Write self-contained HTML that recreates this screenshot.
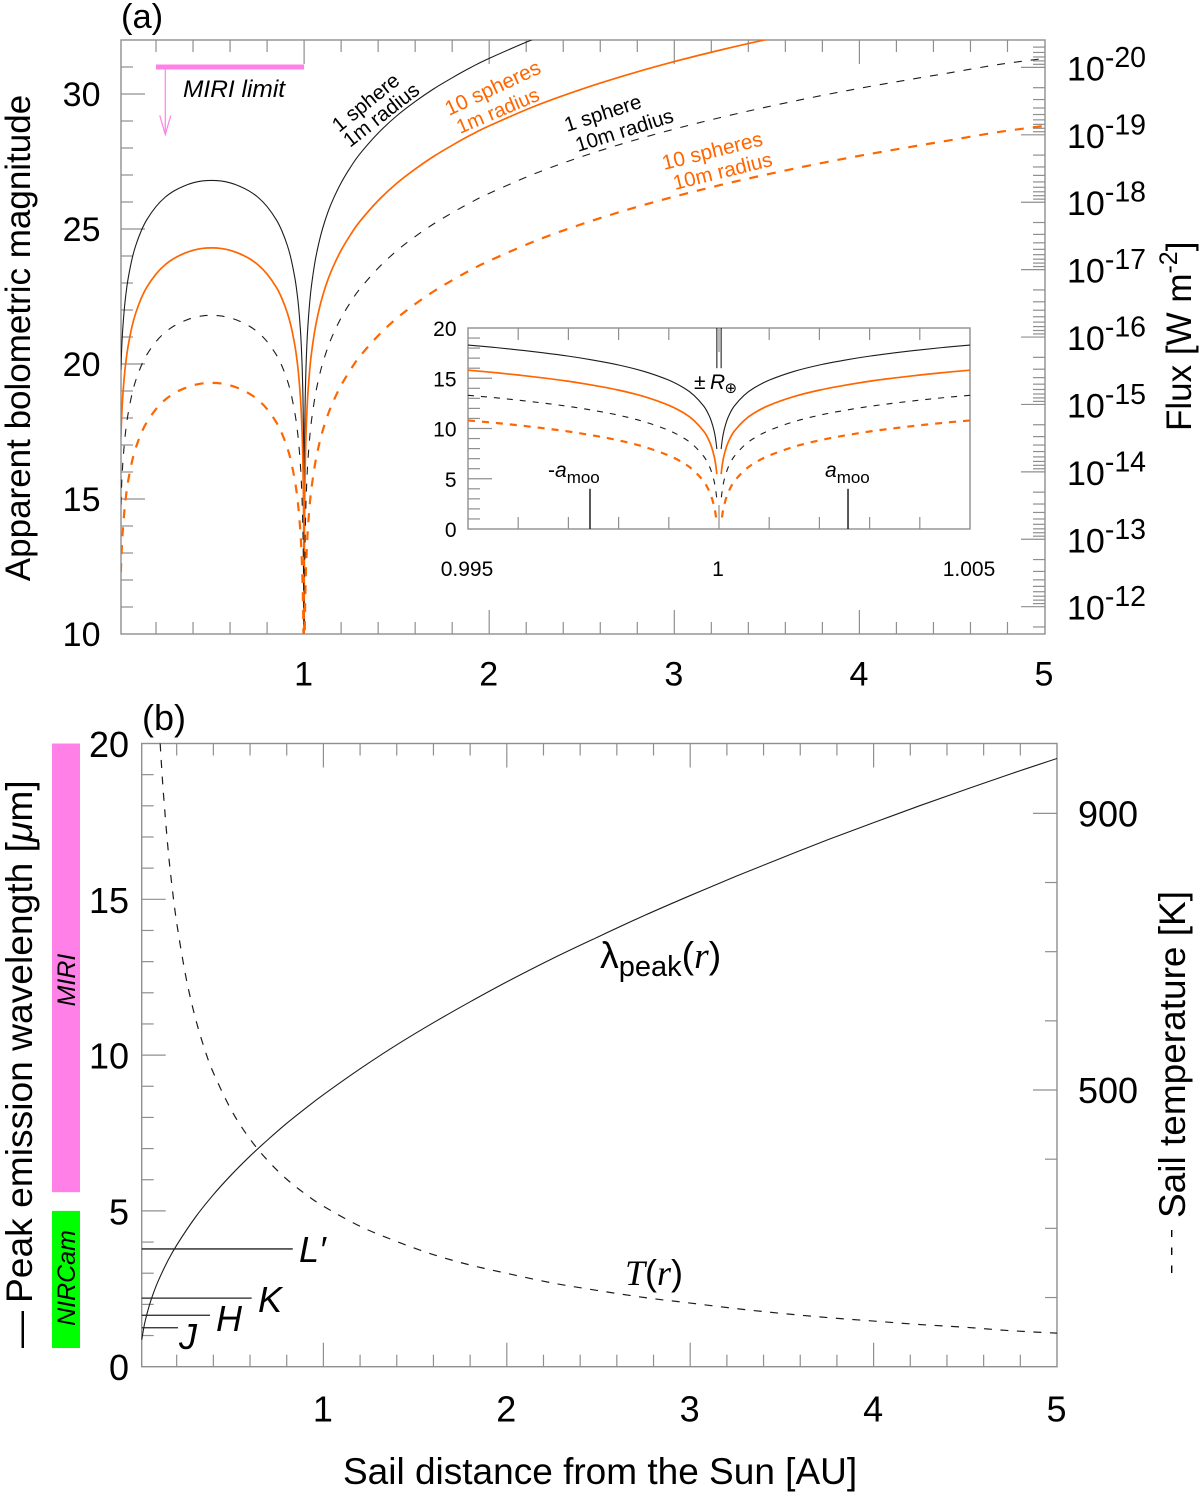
<!DOCTYPE html>
<html lang="en">
<head>
<meta charset="utf-8">
<title>Sail magnitude and peak emission versus solar distance</title>
<style>
html,body{margin:0;padding:0;background:#fff;}
svg{display:block;font-family:"Liberation Sans",sans-serif;fill:#000;}
.it{font-style:italic;}
.serif{font-family:"Liberation Serif",serif;font-style:italic;}
</style>
</head>
<body>
<svg id="fig" xmlns="http://www.w3.org/2000/svg" width="1200" height="1495" viewBox="0 0 1200 1495">
  <defs>
    <clipPath id="clipA"><rect x="121" y="40" width="924" height="594"/></clipPath>
    <clipPath id="clipB"><rect x="141" y="743.5" width="916" height="623.2"/></clipPath>
  </defs>
  <rect x="0" y="0" width="1200" height="1495" fill="#fff"/>

  <g id="panelA">
    <text x="121" y="28" font-size="34.5">(a)</text>
    <text transform="translate(30,338) rotate(-90)" text-anchor="middle" font-size="35">Apparent bolometric magnitude</text>
    <text transform="translate(1191,431) rotate(-90)" font-size="35">Flux [W m<tspan font-size="25" dy="-14">-2</tspan><tspan dy="14">]</tspan></text>

    <text x="183" y="97" font-size="24.5" class="it">MIRI limit</text>

    <g font-size="20.5">
      <text transform="translate(339,133) rotate(-39)">1 sphere</text>
      <text transform="translate(350,148) rotate(-38)">1m radius</text>
      <text transform="translate(449,116) rotate(-25)" font-size="20.8" fill="#ff6600">10 spheres</text>
      <text transform="translate(460,134) rotate(-23)" font-size="20" fill="#ff6600">1m radius</text>
      <text transform="translate(567,132) rotate(-18)">1 sphere</text>
      <text transform="translate(578,152) rotate(-17.5)">10m radius</text>
      <text transform="translate(664,170) rotate(-14)" font-size="20.8" fill="#ff6600">10 spheres</text>
      <text transform="translate(675,190) rotate(-14)" fill="#ff6600">10m radius</text>
    </g>

    <g id="inset">
      <rect x="468" y="328" width="502" height="201" fill="#fff" stroke="none"/>
      <text x="694" y="389" font-size="21" style="font-family:'Liberation Sans','DejaVu Sans',sans-serif">±<tspan class="it" x="710">R</tspan><tspan font-size="15" x="724.5" dy="4">⊕</tspan></text>
      <text x="548" y="477" font-size="21">-<tspan class="it">a</tspan><tspan font-size="17" dy="6">moo</tspan></text>
      <text x="825" y="477" font-size="21"><tspan class="it">a</tspan><tspan font-size="17" dy="6">moo</tspan></text>
    </g>
  </g>

  <g id="panelB">
    <text x="142" y="730" font-size="36">(b)</text>
    <text transform="translate(32,1348) rotate(-90)" font-size="37">—</text>
    <text transform="translate(32,1303) rotate(-90)" font-size="37.2">Peak emission wavelength [<tspan class="it">μ</tspan>m]</text>
    <text transform="translate(1185,1218) rotate(-90)" font-size="37">Sail temperature [K]</text>
    <line x1="1171.7" y1="1273" x2="1171.7" y2="1230" stroke="#000" stroke-width="1.4" stroke-dasharray="7.5 10.5"/>
    <text x="343" y="1484" font-size="37">Sail distance from the Sun [AU]</text>

    <text x="600" y="968" font-size="37.5">λ<tspan font-size="29" dy="8">peak</tspan><tspan dy="-8">(</tspan><tspan class="serif">r</tspan>)</text>
    <text x="625" y="1285" font-size="36"><tspan class="serif">T</tspan>(<tspan class="serif">r</tspan>)</text>

    <text x="299" y="1262" font-size="36" class="it">L′</text>
    <text x="258" y="1312" font-size="36" class="it">K</text>
    <text x="216" y="1331" font-size="36" class="it">H</text>
    <text x="179" y="1349" font-size="36" class="it">J</text>
  </g>
</svg>

<script>
/* ---------- Panel (a): apparent magnitude vs distance ---------- */
const radiusAU = [0.01,0.015,0.02,0.03,0.04,0.05,0.07,0.09,0.12,0.15,0.2,0.25,0.3,0.35,0.4,0.45,0.5,0.55,0.6,0.65,0.7,0.75,0.8,0.85,0.88,0.91,0.93,0.95,0.96,0.97,0.98,0.985,0.99,0.993,0.995,0.997,0.998,0.999,0.9995,0.9998,0.9999,0.99995,
1.00005,1.0001,1.0002,1.0005,1.001,1.002,1.003,1.005,1.007,1.01,1.015,1.02,1.03,1.04,1.06,1.08,1.1,1.13,1.16,1.2,1.25,1.3,1.4,1.5,1.6,1.7,1.8,1.9,2,2.25,2.5,2.75,3,3.25,3.5,3.75,4,4.25,4.5,4.75,5];
const magOneSphere1m = [19.79,20.66,21.27,22.13,22.73,23.19,23.88,24.38,24.93,25.34,25.83,26.18,26.42,26.59,26.71,26.78,26.80,26.78,26.71,26.59,26.42,26.18,25.83,25.34,24.93,24.38,23.88,23.19,22.73,22.13,21.27,20.66,19.79,19.02,18.29,17.19,16.31,14.81,13.30,11.32,9.81,8.31,
8.31,9.81,11.32,13.31,14.81,16.32,17.20,18.32,19.05,19.83,20.72,21.36,22.26,22.91,23.83,24.49,25.02,25.65,26.15,26.71,27.28,27.77,28.55,29.19,29.72,30.19,30.60,30.98,31.32,32.06,32.68,33.22,33.70,34.13,34.52,34.88,35.21,35.51,35.80,36.09,36.32];
const magTenSpheres1m = [17.29,18.16,18.77,19.63,20.23,20.69,21.38,21.88,22.43,22.84,23.33,23.68,23.92,24.09,24.21,24.28,24.30,24.28,24.21,24.09,23.92,23.68,23.33,22.84,22.43,21.88,21.38,20.69,20.23,19.63,18.77,18.16,17.29,16.52,15.79,14.69,13.81,12.31,10.80,8.82,7.31,5.81,
5.81,7.31,8.82,10.81,12.31,13.82,14.70,15.82,16.55,17.33,18.22,18.86,19.76,20.41,21.33,21.99,22.52,23.15,23.65,24.21,24.78,25.27,26.05,26.69,27.22,27.69,28.10,28.48,28.82,29.56,30.18,30.72,31.20,31.63,32.02,32.38,32.71,33.01,33.30,33.59,33.82];
const magOneSphere10m = [14.79,15.66,16.27,17.13,17.73,18.19,18.88,19.38,19.93,20.34,20.83,21.18,21.42,21.59,21.71,21.78,21.80,21.78,21.71,21.59,21.42,21.18,20.83,20.34,19.93,19.38,18.88,18.19,17.73,17.13,16.27,15.66,14.79,14.02,13.29,12.19,11.31,9.81,8.30,6.32,4.81,3.31,
3.31,4.81,6.32,8.31,9.81,11.32,12.20,13.32,14.05,14.83,15.72,16.36,17.26,17.91,18.83,19.49,20.02,20.65,21.15,21.71,22.28,22.77,23.55,24.19,24.72,25.19,25.60,25.98,26.32,27.06,27.68,28.22,28.70,29.13,29.52,29.88,30.21,30.51,30.80,31.09,31.32];
const magTenSpheres10m = [12.29,13.16,13.77,14.63,15.23,15.69,16.38,16.88,17.43,17.84,18.33,18.68,18.92,19.09,19.21,19.28,19.30,19.28,19.21,19.09,18.92,18.68,18.33,17.84,17.43,16.88,16.38,15.69,15.23,14.63,13.77,13.16,12.29,11.52,10.79,9.69,8.81,7.31,5.80,3.82,2.31,0.81,
0.81,2.31,3.82,5.81,7.31,8.82,9.70,10.82,11.55,12.33,13.22,13.86,14.76,15.41,16.33,16.99,17.52,18.15,18.65,19.21,19.78,20.27,21.05,21.69,22.22,22.69,23.10,23.48,23.82,24.56,25.18,25.72,26.20,26.63,27.02,27.38,27.71,28.01,28.30,28.59,28.82];
const magTickLabels = [10,15,20,25,30];
const distanceTickLabels = [1,2,3,4,5];
const fluxExponents = [-20,-19,-18,-17,-16,-15,-14,-13,-12];
const miriLimitMag = 31;
const miriArrowEndMag = 28.5;
const miriLimitExtentAU = [0.2,1];
const miriArrowAU = 0.25;

/* ---------- Inset: zoom around 1 AU ---------- */
const insetOffsetAU = [0.005,0.0045,0.004,0.0035,0.003,0.0025,0.002,0.0015,0.001,0.0007,0.0005,0.0003,0.0002,0.00015,0.0001,0.00007,0.0000426];
const insetOneSphere1m = [18.30,18.08,17.82,17.53,17.20,16.80,16.32,15.69,14.81,14.04,13.30,12.20,11.32,10.69,9.81,9.04,7.96];
const insetTenSpheres1m = [15.80,15.58,15.32,15.03,14.70,14.30,13.82,13.19,12.31,11.54,10.80,9.70,8.82,8.19,7.31,6.54,5.46];
const insetOneSphere10m = [13.30,13.08,12.82,12.53,12.20,11.80,11.32,10.69,9.81,9.04,8.30,7.20,6.32,5.69,4.81,4.04,2.96];
const insetTenSpheres10m = [10.80,10.58,10.32,10.03,9.70,9.30,8.82,8.19,7.31,6.54,5.80,4.70,3.82,3.19,2.31,1.54,0.46];
const insetYTickLabels = [0,5,10,15,20];
const insetXTickLabels = ["0.995","1","1.005"];
const insetXTickValues = [0.995,1,1.005];
const earthRadiusAU = 0.0000426;
const moonDistanceAU = 0.00257;
const earthMarkerTopMag = 20;
const earthMarkerBottomMag = 16;
const moonMarkerTopMag = 4;

/* ---------- Panel (b): wavelength and temperature ---------- */
const lambdaR = [0.01,0.02,0.03,0.05,0.07,0.1,0.15,0.2,0.3,0.4,0.5,0.6,0.7,0.8,0.9,1,1.2,1.4,1.6,1.8,2,2.25,2.5,2.75,3,3.25,3.5,3.75,4,4.25,4.5,4.75,5];
const lambdaPeak = [0.87,1.23,1.51,1.95,2.31,2.76,3.38,3.90,4.78,5.52,6.17,6.76,7.30,7.81,8.28,8.73,9.56,10.33,11.04,11.71,12.35,13.10,13.80,14.48,15.12,15.74,16.33,16.91,17.46,18.00,18.52,19.03,19.52];
const tempR = [0.11,0.12,0.13,0.15,0.17,0.2,0.25,0.3,0.35,0.4,0.5,0.6,0.7,0.8,0.9,1,1.2,1.4,1.6,1.8,2,2.25,2.5,2.75,3,3.25,3.5,3.75,4,4.25,4.5,4.75,5];
const tempK = [1001,958,921,857,805,742,664,606,561,525,470,429,397,371,350,332,303,281,262,247,235,221,210,200,192,184,177,171,166,161,157,152,148.5];
const wavelengthTickLabels = [0,5,10,15,20];
const temperatureTickLabels = [500,900];
const bandWavelength = [1.25,1.65,2.2,3.78];
const bandExtentAU = [0.207,0.382,0.609,0.833];
const instrumentBottom = [0.6,5.6];
const instrumentTop = [5,20];
const instrumentNames = ["NIRCam","MIRI"];

/* ---------- Axis functions ---------- */
const xA = r => 119 + 185.1 * r;
const yA = m => 634 - (m - 10) * 27;
const yFlux = e => 67.4 + (e + 20) * 67.41;
const xI = r => 719 + (r - 1) * 50200;
const yI = m => 529 - m * 10.05;
const xB = r => 140 + 183.4 * r;
const yB = w => 1366.7 - w * 31.16;
const yT = t => 1366.7 - (t - 100) * 0.6917;

const SVGNS = "http://www.w3.org/2000/svg";
const AXIS = "#8f8f8f", BLACK = "#1c1c1c", ORANGE = "#ff6600", PINK = "#ff80e6", GREEN = "#00ff00";
const panelA = document.getElementById("panelA");
const panelB = document.getElementById("panelB");
const inset = document.getElementById("inset");

function mk(tag, attrs, parent) {
  const e = document.createElementNS(SVGNS, tag);
  for (const k in attrs) e.setAttribute(k, attrs[k]);
  parent.appendChild(e);
  return e;
}
function tick(x1, y1, x2, y2, parent) {
  return mk("line", {x1: x1, y1: y1, x2: x2, y2: y2, stroke: AXIS, "stroke-width": 1.2}, parent);
}
function label(x, y, s, size, anchor, parent) {
  const e = mk("text", {x: x, y: y, "font-size": size, "text-anchor": anchor}, parent);
  e.textContent = s;
  return e;
}
function smoothD(p) {
  let d = "M" + p[0][0].toFixed(2) + " " + p[0][1].toFixed(2);
  for (let i = 0; i < p.length - 1; i++) {
    const p0 = p[Math.max(i - 1, 0)], p1 = p[i], p2 = p[i + 1], p3 = p[Math.min(i + 2, p.length - 1)];
    const c1x = p1[0] + (p2[0] - p0[0]) / 6, c1y = p1[1] + (p2[1] - p0[1]) / 6;
    const c2x = p2[0] - (p3[0] - p1[0]) / 6, c2y = p2[1] - (p3[1] - p1[1]) / 6;
    d += "C" + c1x.toFixed(2) + " " + c1y.toFixed(2) + " " + c2x.toFixed(2) + " " + c2y.toFixed(2) + " " + p2[0].toFixed(2) + " " + p2[1].toFixed(2);
  }
  return d;
}
function curve(points, stroke, width, dash, clip, parent) {
  const a = {d: smoothD(points), fill: "none", stroke: stroke, "stroke-width": width, "stroke-linejoin": "round"};
  if (dash) a["stroke-dasharray"] = dash;
  if (clip) a["clip-path"] = "url(#" + clip + ")";
  return mk("path", a, parent);
}

/* ---------- Panel (a) frame and ticks ---------- */
const frameA = mk("rect", {x: 121, y: 40, width: 924, height: 594, fill: "none", stroke: AXIS, "stroke-width": 1.4}, panelA);



for (let i = 1; i < 25; i++) {
  const r = i * 0.2;
  const len = i % 5 === 0 ? 24 : 12;
  const tb = tick(xA(r), 634, xA(r), 634 - len, panelA);
  
  
  const tt = tick(xA(r), 40, xA(r), 40 + len, panelA);
  
  
}
for (let m = 11; m < 32; m++) {
  const len = m % 5 === 0 ? 24 : 12;
  const tl = tick(121, yA(m), 121 + len, yA(m), panelA);
  
  
}
for (const m of magTickLabels) {
  const t = label(100.5, yA(m) + 12, String(m), 34, "end", panelA);
  
  
}
for (const r of distanceTickLabels) {
  const t = label(xA(r) - 0.5, 685.5, String(r), 34, "middle", panelA);
  
  
}
for (let dec = -21; dec <= -12; dec++) {
  for (let k = 1; k <= 9; k++) {
    const y = yFlux(dec + Math.log10(k));
    if (y <= 41 || y >= 633) continue;
    const len = k === 1 ? 24 : 12;
    const tf = tick(1045 - len, y, 1045, y, panelA);
    
    
  }
}
for (const e of fluxExponents) {
  const t = label(1067, yFlux(e) + 13, "10", 34, "start", panelA);
  const sup = mk("tspan", {"font-size": 28.5, dy: -13.5}, t);
  sup.textContent = String(e);
  
  
}

/* ---------- Panel (a) curves ---------- */
function drawMain(vals, stroke, width, dash, name) {
  const left = [], right = [];
  radiusAU.forEach((r, i) => (r < 1 ? left : right).push([xA(r), yA(vals[i])]));
  const a = curve(left, stroke, width, dash, "clipA", panelA);
  
  
  const b = curve(right, stroke, width, dash, "clipA", panelA);
  
  
}
drawMain(magOneSphere1m, BLACK, 1.1, null, "curve-1-sphere-1m");
drawMain(magTenSpheres1m, ORANGE, 1.7, null, "curve-10-spheres-1m");
drawMain(magOneSphere10m, BLACK, 1.1, "8 9", "curve-1-sphere-10m");
drawMain(magTenSpheres10m, ORANGE, 2.2, "9 9", "curve-10-spheres-10m");

/* MIRI limit */
const miriBar = mk("line", {x1: xA(miriLimitExtentAU[0]), y1: yA(miriLimitMag), x2: xA(miriLimitExtentAU[1]), y2: yA(miriLimitMag), stroke: PINK, "stroke-width": 5}, panelA);


const ax = xA(miriArrowAU), ayEnd = yA(miriArrowEndMag);
const arrowShaft = mk("line", {x1: ax, y1: yA(miriLimitMag), x2: ax, y2: ayEnd, stroke: PINK, "stroke-width": 1.2}, panelA);


const arrowHead = mk("polyline", {points: (ax - 5.5) + "," + (ayEnd - 19) + " " + ax + "," + ayEnd + " " + (ax + 5.5) + "," + (ayEnd - 19), fill: "none", stroke: PINK, "stroke-width": 1.2}, panelA);



/* ---------- Inset ---------- */
const insetFrame = mk("rect", {x: 468, y: 328, width: 502, height: 201, fill: "none", stroke: AXIS, "stroke-width": 1.4}, inset);


for (let i = 1; i < 10; i++) {
  const r = 0.995 + i * 0.001;
  const len = i === 5 ? 24 : 12;
  const tb = tick(xI(r), 529, xI(r), 529 - len, inset);
  
  
  const tt = tick(xI(r), 328, xI(r), 328 + len, inset);
  
  
}
for (let m = 1; m < 20; m++) {
  const len = m % 5 === 0 ? 24 : 12;
  const tl = tick(468, yI(m), 468 + len, yI(m), inset);
  
  
}
for (const m of insetYTickLabels) {
  const t = label(456.5, yI(m) + 8, String(m), 21, "end", inset);
  
  
}
insetXTickValues.forEach((r, i) => {
  const t = label(xI(r) - 1, 576, insetXTickLabels[i], 21, "middle", inset);
  
  
});
function drawInset(vals, stroke, width, dash, name) {
  const left = insetOffsetAU.map((o, i) => [xI(1 - o), yI(vals[i])]);
  const right = insetOffsetAU.map((o, i) => [xI(1 + o), yI(vals[i])]);
  const a = curve(left, stroke, width, dash, null, inset);
  
  
  const b = curve(right, stroke, width, dash, null, inset);
  
  
}
drawInset(insetOneSphere1m, BLACK, 1.1, null, "inset-curve-1-sphere-1m");
drawInset(insetTenSpheres1m, ORANGE, 1.7, null, "inset-curve-10-spheres-1m");
drawInset(insetOneSphere10m, BLACK, 1.1, "6 7", "inset-curve-1-sphere-10m");
drawInset(insetTenSpheres10m, ORANGE, 2.2, "7 7", "inset-curve-10-spheres-10m");
[-1, 1].forEach(sign => {
  const re = mk("line", {x1: xI(1 + sign * earthRadiusAU), y1: yI(earthMarkerTopMag), x2: xI(1 + sign * earthRadiusAU), y2: yI(earthMarkerBottomMag), stroke: "#222", "stroke-width": 1.1}, inset);
  
  
  const mo = mk("line", {x1: xI(1 + sign * moonDistanceAU), y1: yI(0), x2: xI(1 + sign * moonDistanceAU), y2: yI(moonMarkerTopMag), stroke: "#222", "stroke-width": 1.5}, inset);
  
  
});

/* ---------- Panel (b) ---------- */
const frameB = mk("rect", {x: 141.7, y: 743.5, width: 915.3, height: 623.2, fill: "none", stroke: AXIS, "stroke-width": 1.4}, panelB);


for (let i = 1; i < 25; i++) {
  const r = i * 0.2;
  const len = i % 5 === 0 ? 24 : 12;
  const tb = tick(xB(r), 1366.7, xB(r), 1366.7 - len, panelB);
  
  
  const tt = tick(xB(r), 743.5, xB(r), 743.5 + len, panelB);
  
  
}
for (let w = 1; w < 20; w++) {
  const len = w % 5 === 0 ? 24 : 12;
  const tl = tick(141.7, yB(w), 141.7 + len, yB(w), panelB);
  
  
}
for (let t = 200; t < 1000; t += 100) {
  const len = (t === 500 || t === 900) ? 24 : 12;
  const tr = tick(1057 - len, yT(t), 1057, yT(t), panelB);
  
  
}
for (const w of wavelengthTickLabels) {
  const t = label(129, yB(w) + 13.5, String(w), 36, "end", panelB);
  
  
}
for (const r of distanceTickLabels) {
  const t = label(xB(r) - 0.5, 1421.5, String(r), 36, "middle", panelB);
  
  
}
for (const k of temperatureTickLabels) {
  const t = label(1078, yT(k) + 13, String(k), 36, "start", panelB);
  
  
}
const lambdaLine = curve(lambdaR.map((r, i) => [xB(r), yB(lambdaPeak[i])]), BLACK, 1.1, null, "clipB", panelB);


const tempLine = curve(tempR.map((r, i) => [xB(r), yT(tempK[i])]), BLACK, 1.2, "8 8.5", "clipB", panelB);


bandWavelength.forEach((w, i) => {
  const l = mk("line", {x1: xB(0.01), y1: yB(w), x2: xB(bandExtentAU[i]), y2: yB(w), stroke: "#222", "stroke-width": 1.3}, panelB);
  
  
});
instrumentNames.forEach((n, i) => {
  const top = yB(instrumentTop[i]), bot = yB(instrumentBottom[i]);
  const rc = mk("rect", {x: 52, y: top, width: 28, height: bot - top, fill: i === 0 ? GREEN : PINK}, panelB);
  
  
  const cy = i === 0 ? 1278 : 980;
  const t = mk("text", {transform: "translate(75," + cy + ") rotate(-90)", "text-anchor": "middle", "font-size": 25, "font-style": "italic"}, panelB);
  t.textContent = n;
  
  
});
</script>
</body>
</html>
